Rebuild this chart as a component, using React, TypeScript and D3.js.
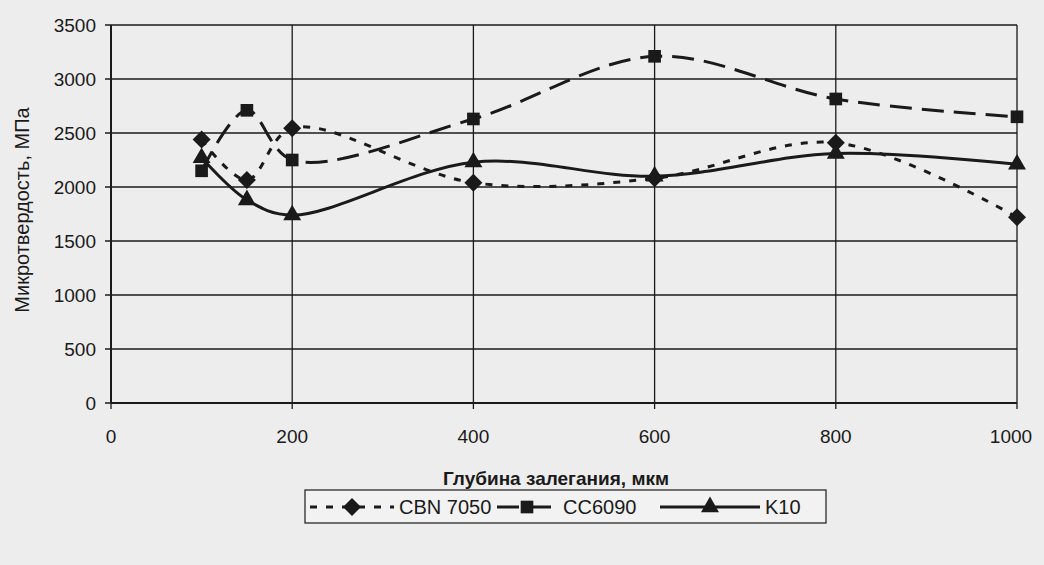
import * as d3 from "d3";

const depths = [100, 150, 200, 400, 600, 800, 1000];
const cbn7050 = [2440, 2065, 2545, 2040, 2080, 2410, 1720];
const cc6090 = [2150, 2710, 2250, 2630, 3210, 2815, 2650];
const k10 = [2270, 1880, 1740, 2230, 2100, 2310, 2210];

const seriesNames = ["CBN 7050", "CC6090", "K10"];
const yTicks = [0, 500, 1000, 1500, 2000, 2500, 3000, 3500];
const xTicks = [0, 200, 400, 600, 800, 1000];

const W = 1044;
const H = 565;
const font = "'Liberation Sans', Arial, sans-serif";
const ink = "#1a1a1a";

type Marker = "diamond" | "square" | "triangle";

function MarkerShape({ kind, x, y }: { kind: Marker; x: number; y: number }) {
  let d = "";
  if (kind === "diamond") d = "M0,-9L9,0L0,9L-9,0Z";
  else if (kind === "square") d = d3.symbol(d3.symbolSquare, 160)() || "";
  else d = d3.symbol(d3.symbolTriangle, 140)() || "";
  return <path d={d} transform={`translate(${x},${y})`} fill={ink} />;
}

export default function App() {
  const x = d3.scaleLinear().domain([0, 1000]).range([111, 1017]);
  const y = d3.scaleLinear().domain([0, 3500]).range([403, 25]);

  const line = d3
    .line<number>()
    .x((_, i) => x(depths[i]))
    .y((d) => y(d))
    .curve(d3.curveCatmullRom.alpha(0.5));

  const series = [
    { name: seriesNames[0], values: cbn7050, dash: "7,9", marker: "diamond" as Marker },
    { name: seriesNames[1], values: cc6090, dash: "22,10", marker: "square" as Marker },
    { name: seriesNames[2], values: k10, dash: "none", marker: "triangle" as Marker },
  ];

  // legend slots: line start, line end, text x
  const legendItems = [
    { x0: 310, x1: 394, tx: 399 },
    { x0: 497, x1: 557, tx: 563 },
    { x0: 660, x1: 760, tx: 765 },
  ];

  return (
    <svg width={W} height={H} style={{ position: "absolute", left: 0, top: 0 }}>
      <rect x={0} y={0} width={W} height={H} fill="#ededed" />
      {/* grid */}
      {yTicks.map((t) => (
        <line key={"gy" + t} x1={x(0) - 6} x2={x(1000)} y1={y(t)} y2={y(t)} stroke={ink} strokeWidth={1.3} />
      ))}
      {xTicks.map((t) => (
        <line key={"gx" + t} x1={x(t)} x2={x(t)} y1={y(3500)} y2={y(0) + 6} stroke={ink} strokeWidth={1.3} />
      ))}
      <line x1={x(0)} x2={x(1000)} y1={y(0)} y2={y(0)} stroke={ink} strokeWidth={2.2} />
      <line x1={x(0)} x2={x(0)} y1={y(0)} y2={y(3500)} stroke={ink} strokeWidth={2} />

      {/* tick labels */}
      {yTicks.map((t) => (
        <text
          key={"ty" + t}
          x={x(0) - 15}
          y={y(t)}
          dy="0.35em"
          textAnchor="end"
          fontFamily={font}
          fontSize={19}
          fill={ink}
        >
          {t}
        </text>
      ))}
      {xTicks.map((t) => (
        <text
          key={"tx" + t}
          x={t === 1000 ? x(t) - 6 : x(t)}
          y={443}
          textAnchor="middle"
          fontFamily={font}
          fontSize={19}
          fill={ink}
        >
          {t}
        </text>
      ))}

      <text
        transform={`translate(22,${y(1750) - 4}) rotate(-90)`}
        textAnchor="middle"
        dy="0.35em"
        fontFamily={font}
        fontSize={20}
        fill={ink}
      >
        Микротвердость, МПа
      </text>
      <text x={556} y={485} textAnchor="middle" fontFamily={font} fontSize={19} fontWeight="bold" fill={ink}>
        Глубина залегания, мкм
      </text>

      {/* series */}
      {series.map((s) => (
        <g key={s.name}>
          <path
            d={line(s.values) || ""}
            fill="none"
            stroke={ink}
            strokeWidth={3}
            strokeDasharray={s.dash}
          />
          {s.values.map((v, i) => (
            <MarkerShape key={i} kind={s.marker} x={x(depths[i])} y={y(v)} />
          ))}
        </g>
      ))}

      {/* legend */}
      <rect x={305} y={490} width={521} height={33} fill="#f2f2f2" stroke={ink} strokeWidth={1.2} />
      {series.map((s, i) => {
        const it = legendItems[i];
        return (
          <g key={"lg" + s.name}>
            <line x1={it.x0} x2={it.x1} y1={507} y2={507} stroke={ink} strokeWidth={3} strokeDasharray={s.dash} />
            <MarkerShape kind={s.marker} x={(it.x0 + it.x1) / 2} y={507} />
            <text x={it.tx} y={507} dy="0.35em" fontFamily={font} fontSize={20} fill={ink}>
              {s.name}
            </text>
          </g>
        );
      })}
    </svg>
  );
}
